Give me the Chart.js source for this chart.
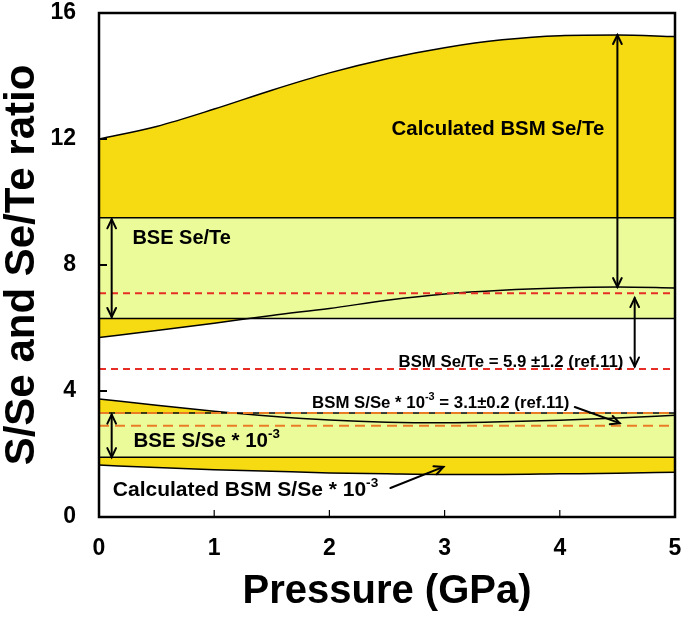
<!DOCTYPE html>
<html>
<head>
<meta charset="utf-8">
<script src="https://cdn.jsdelivr.net/npm/chart.js@4.4.1/dist/chart.umd.min.js"></script>
<style>
  html, body { margin: 0; padding: 0; background: #fff; }
  #wrap { width: 685px; height: 620px; }
</style>
</head>
<body>
<div id="wrap"><canvas id="myChart"></canvas></div>
<script>
// 압력 (GPa)
const pressure = [0, 0.5, 1, 1.5, 2, 2.5, 3, 3.5, 4, 4.5, 5];
// 계산된 BSM Se/Te 범위
const calcSeTeHigh = [12.0, 12.4, 12.95, 13.55, 14.1, 14.55, 14.9, 15.15, 15.28, 15.3, 15.25];
const calcSeTeLow = [5.7, 5.92, 6.15, 6.4, 6.62, 6.88, 7.08, 7.2, 7.27, 7.3, 7.27];
// 계산된 BSM S/Se * 10^-3 범위
const calcSSeHigh = [3.75, 3.55, 3.36, 3.2, 3.08, 3.01, 2.99, 3.02, 3.07, 3.14, 3.23];
const calcSSeLow = [1.65, 1.57, 1.5, 1.45, 1.4, 1.37, 1.35, 1.35, 1.37, 1.39, 1.42];
// BSE 범위 [하한, 상한]
const bseSeTe = [6.3, 9.5];
const bseSSe = [1.9, 3.3];
// BSM 문헌값 [평균, 오차] (ref.11)
const bsmSeTe = [5.9, 1.2];
const bsmSSe = [3.1, 0.2];
// 축 눈금
const xTicks = [0, 1, 2, 3, 4, 5];
const yTicks = [0, 4, 8, 12, 16];

const FONT = "'Liberation Sans', Arial, sans-serif";
const GOLD = '#f6da12';
const LIGHT = '#ecfb9a';

function curve(arr) {
  return pressure.map((p, i) => ({x: p, y: arr[i]}));
}
function flat(v) {
  return [{x: pressure[0], y: v}, {x: pressure[pressure.length - 1], y: v}];
}

function lineSet(data, fill, bg, order) {
  return {
    data: data,
    borderColor: '#000',
    borderWidth: 1.5,
    pointRadius: 0,
    cubicInterpolationMode: 'monotone',
    fill: fill,
    backgroundColor: bg,
    order: order
  };
}
function dashSet(v, color, dash) {
  return {
    data: flat(v),
    borderColor: color,
    borderWidth: 2,
    borderDash: dash,
    pointRadius: 0,
    fill: false,
    order: 1
  };
}

// 주석 텍스트 (위치는 데이터 좌표)
const notes = [
  {parts: [['Calculated BSM Se/Te', 0]], p: 2.54, v: 12.29, size: 20.4},
  {parts: [['BSE Se/Te', 0]], p: 0.29, v: 8.83, size: 20},
  {parts: [['BSM Se/Te = 5.9 \u00b11.2 (ref.11)', 0]], p: 2.6, v: 4.92, size: 16.8},
  {parts: [['BSM S/Se * 10', 0], ['-3', 1], [' = 3.1\u00b10.2 (ref.11)', 0]], p: 1.85, v: 3.62, size: 16.8},
  {parts: [['BSE S/Se * 10', 0], ['-3', 1]], p: 0.3, v: 2.41, size: 20.5},
  {parts: [['Calculated BSM S/Se * 10', 0], ['-3', 1]], p: 0.12, v: 0.86, size: 21}
];
const arrows = [
  {p1: 4.5, v1: 15.3, p2: 4.5, v2: 7.3, both: true},
  {p1: 0.11, v1: 9.45, p2: 0.11, v2: 6.35, both: true},
  {p1: 4.65, v1: 6.95, p2: 4.65, v2: 4.78, both: true},
  {p1: 0.11, v1: 3.25, p2: 0.11, v2: 1.9, both: true},
  {p1: 4.13, v1: 3.49, p2: 4.52, v2: 2.98, both: false},
  {p1: 2.53, v1: 0.92, p2: 2.99, v2: 1.59, both: false}
];

function head(ctx, x1, y1, x2, y2) {
  const a = Math.atan2(y2 - y1, x2 - x1);
  const len = 10, spread = 0.45;
  ctx.beginPath();
  ctx.moveTo(x2 - len * Math.cos(a - spread), y2 - len * Math.sin(a - spread));
  ctx.lineTo(x2, y2);
  ctx.lineTo(x2 - len * Math.cos(a + spread), y2 - len * Math.sin(a + spread));
  ctx.stroke();
}

const extras = {
  id: 'extras',
  afterDraw(chart) {
    const ctx = chart.ctx;
    const xs = chart.scales.x, ys = chart.scales.y;
    const area = chart.chartArea;
    ctx.save();
    ctx.strokeStyle = '#000';
    ctx.fillStyle = '#000';

    // 안쪽 눈금
    ctx.lineWidth = 2;
    ys.ticks.forEach(t => {
      if (t.value <= ys.min || t.value >= ys.max) return;
      const y = ys.getPixelForValue(t.value);
      ctx.beginPath(); ctx.moveTo(area.left, y); ctx.lineTo(area.left + 8, y); ctx.stroke();
    });
    ctx.lineWidth = 1.2;
    xs.ticks.forEach(t => {
      if (t.value <= xs.min || t.value >= xs.max) return;
      const x = xs.getPixelForValue(t.value);
      ctx.beginPath(); ctx.moveTo(x, area.bottom); ctx.lineTo(x, area.bottom - 7); ctx.stroke();
    });

    // 테두리
    ctx.lineWidth = 2.5;
    ctx.strokeRect(area.left, area.top, area.right - area.left, area.bottom - area.top);

    // 화살표
    ctx.lineWidth = 2;
    ctx.lineCap = 'round';
    arrows.forEach(a => {
      const x1 = xs.getPixelForValue(a.p1), y1 = ys.getPixelForValue(a.v1);
      const x2 = xs.getPixelForValue(a.p2), y2 = ys.getPixelForValue(a.v2);
      ctx.beginPath(); ctx.moveTo(x1, y1); ctx.lineTo(x2, y2); ctx.stroke();
      head(ctx, x1, y1, x2, y2);
      if (a.both) head(ctx, x2, y2, x1, y1);
    });

    // 텍스트
    ctx.textBaseline = 'middle';
    ctx.textAlign = 'left';
    notes.forEach(n => {
      let x = xs.getPixelForValue(n.p);
      const y = ys.getPixelForValue(n.v);
      n.parts.forEach(([txt, sup]) => {
        const s = sup ? n.size * 0.65 : n.size;
        ctx.font = 'bold ' + s + 'px ' + FONT;
        ctx.fillText(txt, x, sup ? y - n.size * 0.33 : y);
        x += ctx.measureText(txt).width;
      });
    });
    ctx.restore();
  }
};

const myCt = document.getElementById('myChart');
new Chart(myCt, {
  type: 'line',
  data: {
    datasets: [
      lineSet(curve(calcSeTeLow), false, GOLD, 10),   // 0
      lineSet(curve(calcSeTeHigh), 0, GOLD, 10),      // 1
      lineSet(curve(calcSSeLow), false, GOLD, 10),    // 2
      lineSet(curve(calcSSeHigh), 2, GOLD, 10),       // 3
      lineSet(flat(bseSeTe[0]), false, LIGHT, 5),     // 4
      lineSet(flat(bseSeTe[1]), 4, LIGHT, 5),         // 5
      lineSet(flat(bseSSe[0]), false, LIGHT, 5),      // 6
      lineSet(flat(bseSSe[1]), 6, LIGHT, 5),          // 7
      dashSet(bsmSeTe[0] + bsmSeTe[1], '#e62e26', [7, 5]),
      dashSet(bsmSeTe[0] - bsmSeTe[1], '#e62e26', [7, 5]),
      dashSet(bsmSSe[0] + bsmSSe[1], '#e87d26', [10, 6]),
      dashSet(bsmSSe[0] - bsmSSe[1], '#e87d26', [10, 6])
    ]
  },
  options: {
    responsive: true,
    maintainAspectRatio: false,
    animation: false,
    layout: { padding: { top: 13, right: 10, left: 0, bottom: 0 } },
    plugins: {
      legend: { display: false },
      tooltip: { enabled: false },
      filler: { drawTime: 'beforeDatasetsDraw' }
    },
    scales: {
      x: {
        type: 'linear',
        min: 0, max: 5,
        grid: { display: false, drawTicks: false },
        border: { display: false },
        afterBuildTicks: s => { s.ticks = xTicks.map(v => ({value: v})); },
        afterFit: s => { s.height = 103; s.paddingLeft = 0; s.paddingRight = 0; },
        ticks: { padding: 18, color: '#000', font: { family: FONT, size: 23, weight: 'bold' } },
        title: {
          display: true, text: 'Pressure (GPa)', color: '#000',
          font: { family: FONT, size: 40, weight: 'bold' },
          padding: { top: 0, bottom: 4 }
        }
      },
      y: {
        min: 0, max: 16,
        grid: { display: false, drawTicks: false },
        border: { display: false },
        afterBuildTicks: s => { s.ticks = yTicks.map(v => ({value: v})); },
        afterFit: s => { s.width = 99; s.paddingTop = 0; s.paddingBottom = 0; },
        ticks: { padding: 23, color: '#000', font: { family: FONT, size: 23, weight: 'bold' } },
        title: {
          display: true, text: 'S/Se and Se/Te ratio', color: '#000',
          font: { family: FONT, size: 42, weight: 'bold' },
          padding: { top: -3, bottom: 0 }
        }
      }
    }
  },
  plugins: [extras]
});
</script>
</body>
</html>
